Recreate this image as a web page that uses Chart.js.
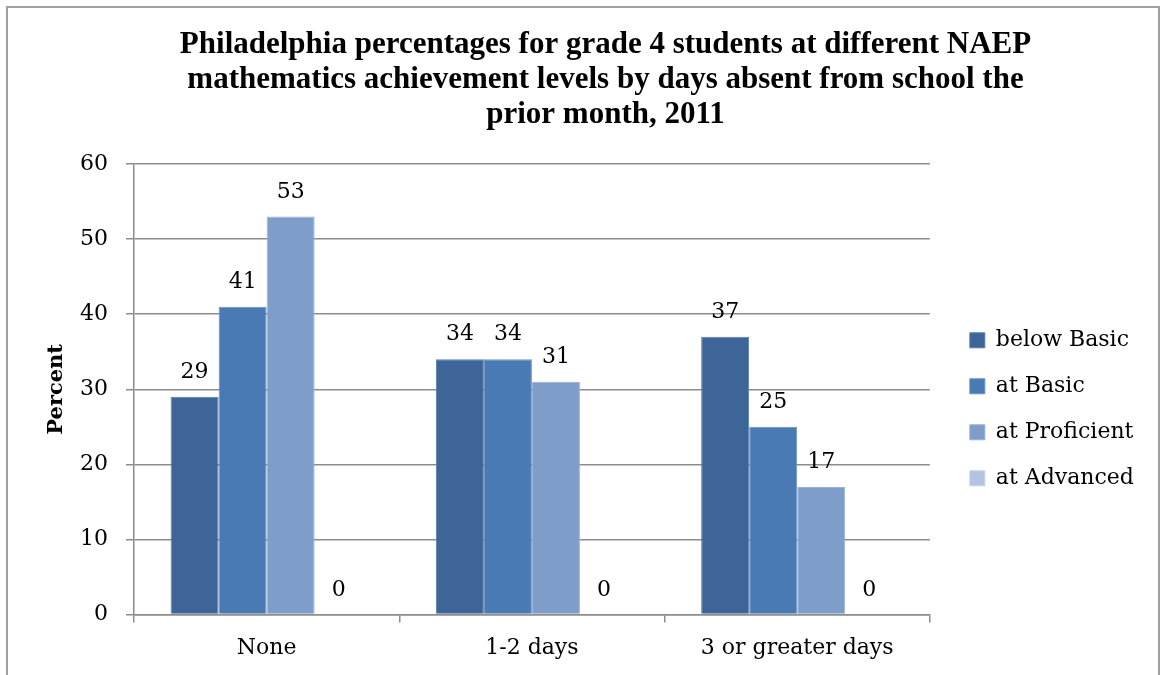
<!DOCTYPE html>
<html>
<head>
<meta charset="utf-8">
<script src="https://cdn.jsdelivr.net/npm/chart.js@4.4.0/dist/chart.umd.min.js"></script>
<style>
  html, body { margin: 0; padding: 0; background: #fff; overflow: hidden; }
  body { width: 1160px; height: 675px; position: relative; }
  #frame {
    position: absolute; left: 6px; top: 6px; width: 1150px; height: 680px;
    border-left: 2px solid #a0a0a0; border-top: 2px solid #a0a0a0; border-right: 2px solid #a0a0a0;
  }
  #wrap { position: absolute; left: 0; top: 0; width: 1160px; height: 675px; }
</style>
</head>
<body>
<div id="frame"></div>
<div id="wrap"><canvas id="chart" width="1160" height="675"></canvas></div>
<script>
// Data
const categories = ["None", "1-2 days", "3 or greater days"];
const belowBasic = [29, 34, 37];
const atBasic = [41, 34, 25];
const atProficient = [53, 31, 17];
const atAdvanced = [0, 0, 0];
const seriesNames = ["below Basic", "at Basic", "at Proficient", "at Advanced"];
const yTicks = [0, 10, 20, 30, 40, 50, 60];

const titleLines = [
  "Philadelphia percentages for grade 4 students at different NAEP",
  "mathematics achievement levels by days absent from school the",
  "prior month, 2011",
];

const titleFont = "'Liberation Serif', serif";
const bodyFont = "'DejaVu Serif', serif";
const gridColor = "#8c8c8c";

// draws the value above each bar
const barLabels = {
  id: "barLabels",
  afterDatasetsDraw(chart) {
    const ctx = chart.ctx;
    ctx.save();
    ctx.font = "22px " + bodyFont;
    ctx.fillStyle = "#000";
    ctx.textAlign = "center";
    ctx.textBaseline = "alphabetic";
    chart.data.datasets.forEach((ds, i) => {
      chart.getDatasetMeta(i).data.forEach((bar, j) => {
        ctx.fillText(String(ds.data[j]), bar.x, bar.y - 19);
      });
    });
    ctx.restore();
  },
};

// title in the original is centred a bit right of the canvas middle
const shiftTitle = {
  id: "shiftTitle",
  afterLayout(chart) {
    if (chart.titleBlock) {
      chart.titleBlock.left += 38;
      chart.titleBlock.right += 38;
    }
  },
};

const ctx = document.getElementById("chart").getContext("2d");
new Chart(ctx, {
  type: "bar",
  data: {
    labels: categories,
    datasets: [
      { label: seriesNames[0], data: belowBasic, backgroundColor: "#3d6597", borderColor: "#5a7fad" },
      { label: seriesNames[1], data: atBasic, backgroundColor: "#4a7ab4", borderColor: "#6b92c4" },
      { label: seriesNames[2], data: atProficient, backgroundColor: "#7e9dc9", borderColor: "#98b1d6" },
      { label: seriesNames[3], data: atAdvanced, backgroundColor: "#b4c4e0", borderColor: "#c6d3e8" },
    ].map((d) => ({ ...d, borderWidth: 1, categoryPercentage: 0.724, barPercentage: 1.0 })),
  },
  options: {
    responsive: false,
    animation: false,
    layout: { padding: { left: 0, right: 25, top: 0, bottom: 2 } },
    plugins: {
      title: {
        display: true,
        text: titleLines,
        color: "#000",
        font: { family: titleFont, size: 31, weight: "bold", lineHeight: 1.14 },
        padding: { top: 27, bottom: 31 },
      },
      legend: {
        position: "right",
        fullSize: false,
        title: { display: true, text: " ", font: { size: 10 }, padding: 14 },
        labels: {
          color: "#000",
          font: { family: bodyFont, size: 22 },
          boxWidth: 15,
          boxHeight: 15,
          padding: 24,
        },
      },
      tooltip: { enabled: false },
    },
    scales: {
      x: {
        offset: true,
        grid: { display: true, drawOnChartArea: false, tickLength: 8, color: gridColor, lineWidth: 1.5 },
        border: { color: gridColor, width: 1.5 },
        ticks: { color: "#000", font: { family: bodyFont, size: 22 }, padding: 12 },
      },
      y: {
        min: 0,
        max: 60,
        afterBuildTicks: (scale) => {
          scale.ticks = yTicks.map((v) => ({ value: v }));
        },
        afterFit: (scale) => {
          scale.width = 134;
        },
        grid: { color: gridColor, lineWidth: 1.5, tickLength: 8 },
        border: { color: gridColor, width: 1.5 },
        ticks: { color: "#000", font: { family: bodyFont, size: 22 }, padding: 18 },
        title: {
          display: true,
          text: "Percent",
          color: "#000",
          font: { family: bodyFont, size: 21, weight: "bold" },
          padding: { top: 44, bottom: 4 },
        },
      },
      // empty spacer between the plot and the legend
      gap: {
        type: "linear",
        position: "right",
        grid: { display: false },
        border: { display: false },
        ticks: { display: false },
        afterFit: (scale) => {
          scale.width = 16;
        },
      },
    },
  },
  plugins: [barLabels, shiftTitle],
});
</script>
</body>
</html>
